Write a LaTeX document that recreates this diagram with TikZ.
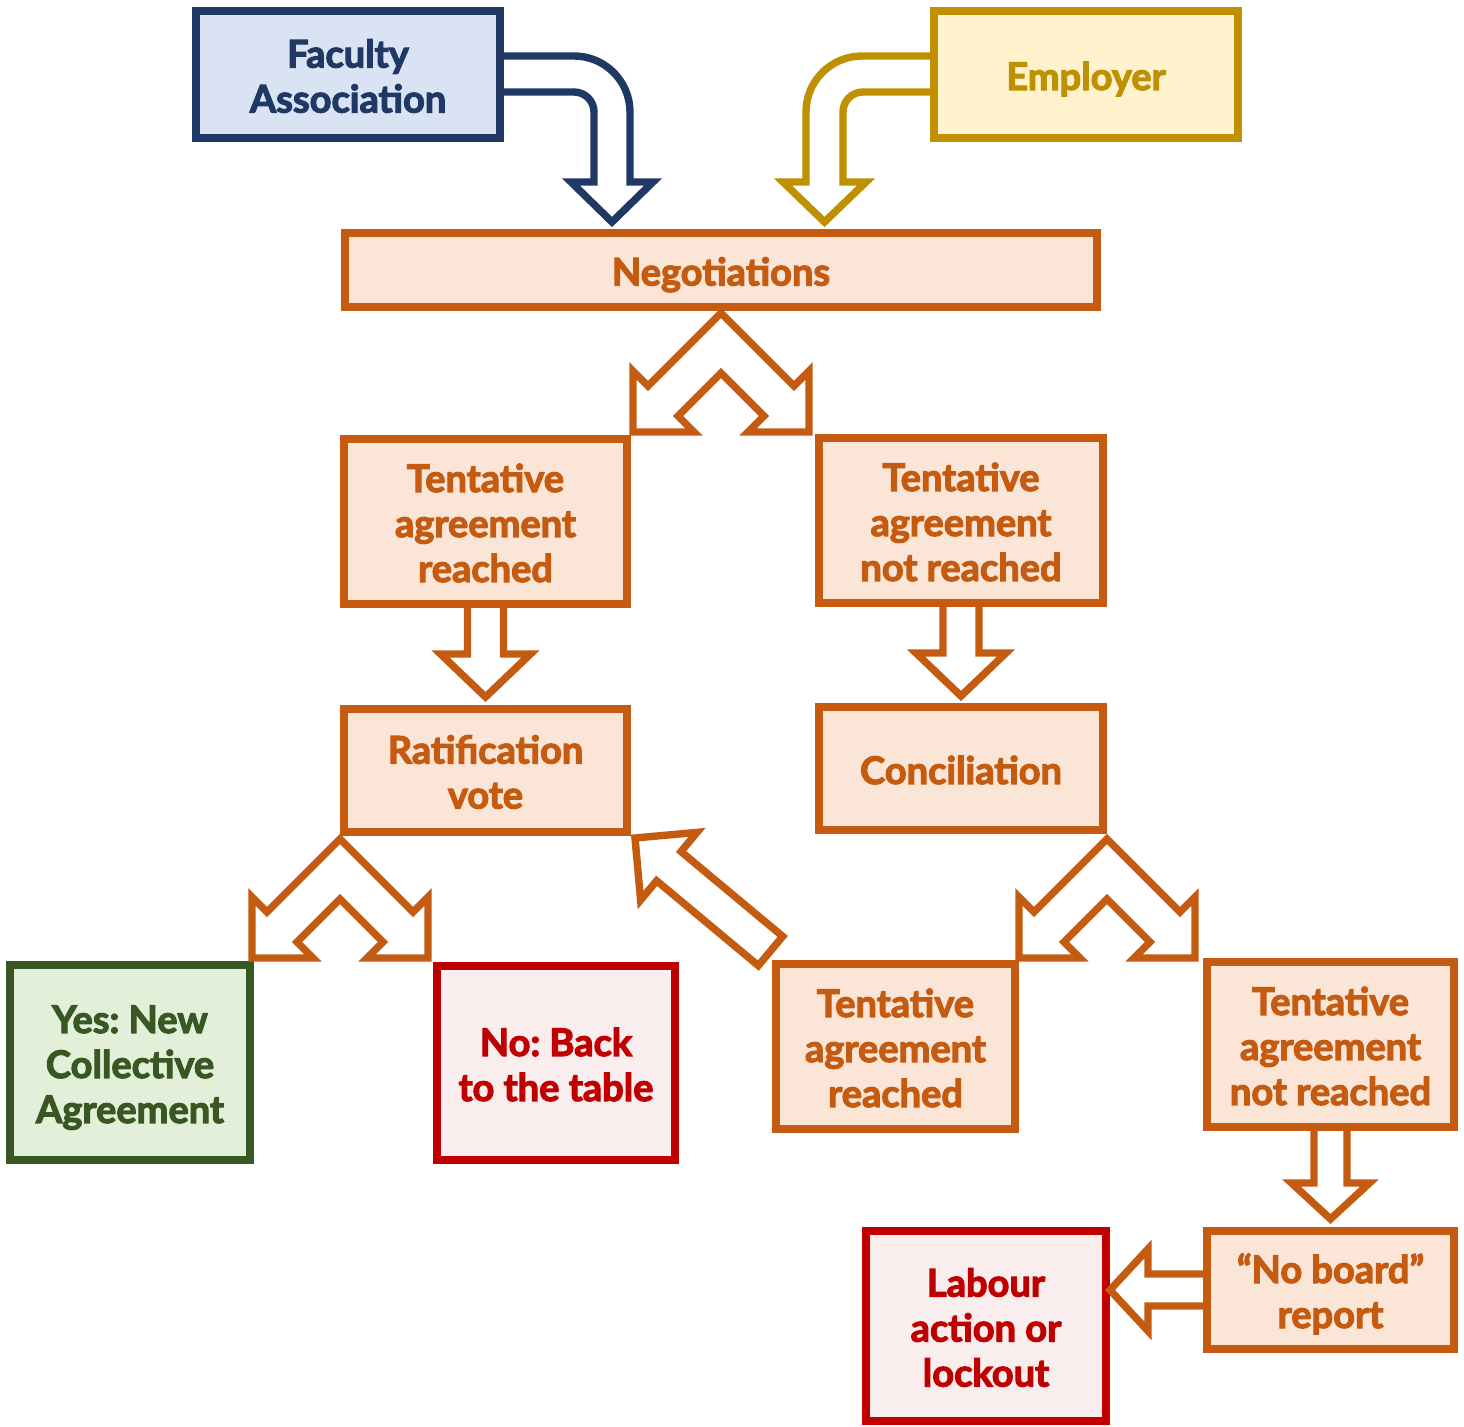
\documentclass[tikz,border=0pt]{standalone}
\usepackage{fontspec}
\setmainfont{Lato}[BoldFeatures={FakeBold=3}]
\usetikzlibrary{calc}
\definecolor{oraD}{HTML}{C55A11}
\definecolor{oraF}{HTML}{FBE5D6}
\definecolor{navD}{HTML}{203864}
\definecolor{navF}{HTML}{DAE3F3}
\definecolor{golD}{HTML}{BF9000}
\definecolor{golF}{HTML}{FFF2CC}
\definecolor{grnD}{HTML}{385723}
\definecolor{grnF}{HTML}{E2F0D9}
\definecolor{redD}{HTML}{C00000}
\definecolor{redF}{HTML}{F9EDED}
\newcommand{\tsu}{\rule{0pt}{20pt}}
\newcommand{\bsu}{\rule[-4.5pt]{0pt}{0pt}}
\tikzset{
  box/.style={rectangle, line width=4pt, inner sep=0pt, outer sep=0pt, align=center,
    font=\fontsize{19}{22.5}\selectfont\bfseries\frenchspacing},
  sz/.style 2 args={minimum width=#1*0.5pt, minimum height=#2*0.5pt},
  obox/.style={box, draw=oraD, fill=oraF, text=oraD},
  nbox/.style={box, draw=navD, fill=navF, text=navD},
  gbox/.style={box, draw=golD, fill=golF, text=golD},
  grbox/.style={box, draw=grnD, fill=grnF, text=grnD},
  rbox/.style={box, draw=redD, fill=redF, text=redD},
  arrline/.style={line width=3.7pt, line join=miter},
}
% block arrow: origin, rotation, length, shaft half width, head half width, head length, colour
\newcommand{\blockarr}[7]{%
  \begin{scope}[shift={(#1)}, rotate=#2]
    \draw[arrline, draw=#7] (0,#4) -- ({#3-#6},#4) -- ({#3-#6},#5) -- (#3,0)
      -- ({#3-#6},-#5) -- ({#3-#6},-#4) -- (0,-#4);
  \end{scope}}
% split arrow with apex at origin
\newcommand{\splitarr}[1]{%
  \begin{scope}[shift={(#1)}]
    \draw[arrline, draw=oraD] (0,0) -- (-73,73) -- (-88,58) -- (-88,119) -- (-27,119)
      -- (-43,103) -- (0,60) -- (43,103) -- (27,119) -- (88,119) -- (88,58)
      -- (73,73) -- cycle;
  \end{scope}}
\begin{document}
\begin{tikzpicture}[x=0.5pt,y=-0.5pt]
\useasboundingbox (0,0) rectangle (1464,1427);
% boxes
\node[nbox, sz={304}{127}] (fa) at (348,74.5) {\tsu Faculty\\Association\bsu};
\node[gbox, sz={304}{127}] (emp) at (1086,74.5) {\tsu Employer\bsu};
\node[obox, sz={752}{74}] (neg) at (721,270) {\tsu Negotiations\bsu};
\node[obox, sz={283}{165}] (tar1) at (485.5,521.5) {\tsu Tentative\\agreement\\reached\bsu};
\node[obox, sz={284}{165}] (tanr1) at (961,520.5) {\tsu Tentative\\agreement\\not reached\bsu};
\node[obox, sz={283}{123}] (rv) at (485.5,770.5) {\tsu Ratification\\vote\bsu};
\node[obox, sz={284}{123}] (conc) at (961,768.5) {\tsu Conciliation\bsu};
\node[grbox, sz={240}{195}] (yes) at (130,1062.5) {\tsu Yes: New\\Collective\\Agreement\bsu};
\node[rbox, sz={238}{194}] (no) at (556,1063) {\tsu No: Back\\to the table\bsu};
\node[obox, sz={239}{165}] (tar2) at (895.5,1046.5) {\tsu Tentative\\agreement\\reached\bsu};
\node[obox, sz={247}{165}] (tanr2) at (1330.5,1044.5) {\tsu Tentative\\agreement\\not reached\bsu};
\node[obox, sz={247}{118}] (nb) at (1330.5,1290) {\tsu “No board”\\report\bsu};
\node[rbox, sz={240}{190}] (lab) at (986,1326) {\tsu Labour\\action or\\lockout\bsu};
% bent arrows
\draw[arrline, draw=navD] (fa.east |- 0,56) -- (574,56) .. controls (604.9,56) and (630,81.1) .. (630,112)
  -- (630,182) -- (653,182) -- (612,222) -- (571,182) -- (594,182) -- (594,112)
  .. controls (594,100.95) and (585.05,92) .. (574,92) -- (fa.east |- 0,92);
\draw[arrline, draw=golD] (emp.west |- 0,56) -- (862,56) .. controls (831.1,56) and (806,81.1) .. (806,112)
  -- (806,182) -- (783,182) -- (824.5,222) -- (866,182) -- (843,182) -- (843,112)
  .. controls (843,100.95) and (851.95,92) .. (863,92) -- (emp.west |- 0,92);
% split arrows
\splitarr{[yshift=-3pt]neg.south}
\splitarr{[xshift=-2pt,yshift=-3.5pt]rv.south west}
\splitarr{[xshift=2pt,yshift=-4.5pt]conc.south east}
% straight arrows
\blockarr{tar1.south}{-90}{93}{18}{45}{43}{oraD}
\blockarr{tanr1.south}{-90}{93}{18}{45}{43}{oraD}
\blockarr{tanr2.south}{-90}{92}{16.5}{39}{36}{oraD}
\blockarr{nb.west}{180}{97}{16}{41}{38}{oraD}
% diagonal arrow back to ratification
\draw[arrline, draw=oraD] (782.7,936.4) -- (681.0,851.6) -- (697.0,832.4) -- (635,838)
  -- (640.6,900.0) -- (656.6,880.8) -- (758.3,965.6) -- cycle;
\end{tikzpicture}
\end{document}
